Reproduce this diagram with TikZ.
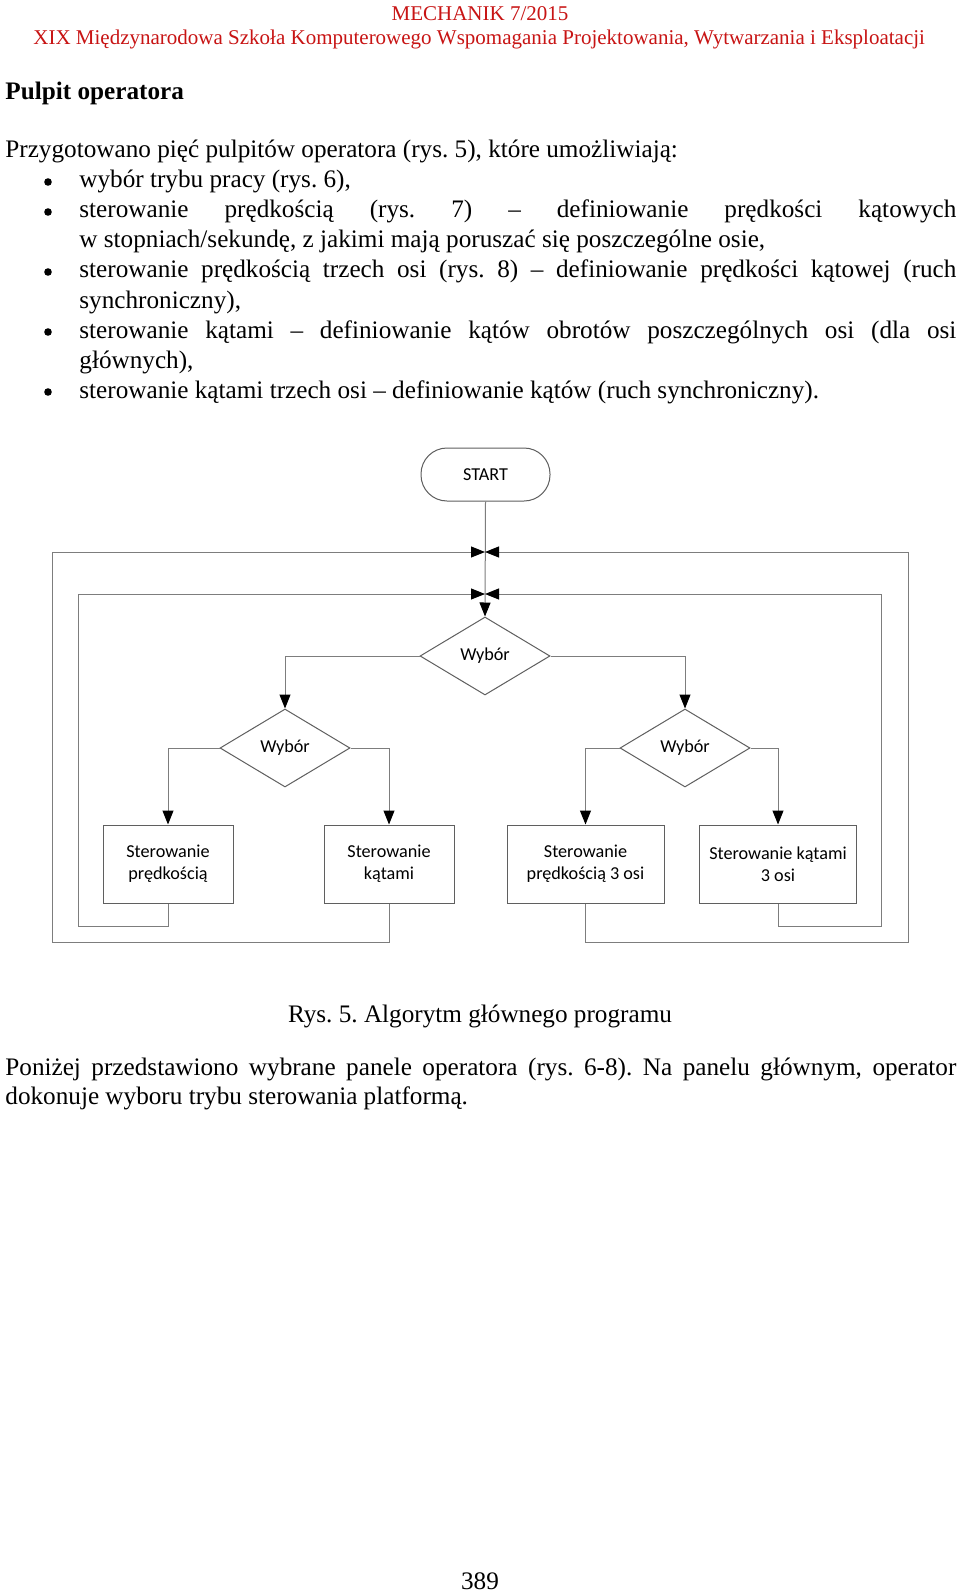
\documentclass[tikz,border=0pt]{standalone}
\usepackage{fontspec}
\setmainfont{Liberation Serif}
\newfontfamily\chartfont{Carlito}
\usepackage{tikz}
\usetikzlibrary{arrows.meta,shapes.geometric}
\frenchspacing

\definecolor{headred}{RGB}{200,20,20}
\definecolor{linegray}{RGB}{125,125,125}
\definecolor{shapegray}{RGB}{95,95,95}
\newcommand{\bodyfont}{\fontsize{12.6}{15}\selectfont}
\newcommand{\headfont}{\fontsize{10.5}{12.6}\selectfont}

\begin{document}
\begin{tikzpicture}[x=0.5pt,y=-0.5pt,
    txt/.style={anchor=base west,inner sep=0pt,font=\bodyfont},
    conn/.style={draw=linegray,line width=0.5pt},
    arr/.style={conn,-{Triangle[length=7pt,width=5.5pt,black]}},
    chartnode/.style={draw=shapegray,line width=0.5pt,align=center,inner sep=0pt,
        font=\chartfont\fontsize{9.1}{11.1}\selectfont},
    decision/.style={chartnode,diamond,minimum width=65pt,minimum height=39pt},
    process/.style={chartnode,rectangle,minimum height=39pt},
    terminal/.style={chartnode,rectangle,rounded corners=13pt,minimum width=64.5pt,minimum height=26.5pt}]
    \useasboundingbox[fill=white] (0,0) rectangle (960,1594);

    % naglowek
    \node[anchor=base,inner sep=0pt,font=\headfont,text=headred] (mech) at (480,21) {MECHANIK 7/2015};
    \node[anchor=base west,inner sep=0pt,font=\headfont,text=headred] (szkola) at (33,45)
        {XIX Międzynarodowa Szkoła Komputerowego Wspomagania Projektowania, Wytwarzania i Eksploatacji};

    \node[txt,font=\bodyfont\bfseries] (tytul) at (5,100) {Pulpit operatora};
    \node[txt] (wstep) at (5,158) {Przygotowano pięć pulpitów operatora (rys. 5), które umożliwiają:};

    % lista
    \foreach \y in {188,218,278,338,398}
        \fill (48,\y-6) circle (3.8);
    \node[txt] (p1) at (79,188) {wybór trybu pracy (rys. 6),};
    \node[txt] (p2a) at (79,218) {\makebox[438.5pt][s]{sterowanie prędkością (rys. 7) – definiowanie prędkości kątowych}};
    \node[txt] (p2b) at (79,248) {w stopniach/sekundę, z jakimi mają poruszać się poszczególne osie,};
    \node[txt] (p3a) at (79,278) {\makebox[438.5pt][s]{sterowanie prędkością trzech osi (rys. 8) – definiowanie prędkości kątowej (ruch}};
    \node[txt] (p3b) at (79,308) {synchroniczny),};
    \node[txt] (p4a) at (79,338) {\makebox[438.5pt][s]{sterowanie kątami – definiowanie kątów obrotów poszczególnych osi (dla osi}};
    \node[txt] (p4b) at (79,368) {głównych),};
    \node[txt] (p5) at (79,398) {sterowanie kątami trzech osi – definiowanie kątów (ruch synchroniczny).};

    % schemat
    \node[terminal] (start) at (485.5,474.5) {START};
    \node[decision] (wybor) at (485,656) {Wybór};
    \node[decision] (wyborL) at (285,748) {Wybór};
    \node[decision] (wyborR) at (685,748) {Wybór};
    \node[process,minimum width=65pt] (predk) at (168,864) {Sterowanie\\prędkością};
    \node[process,minimum width=65pt] (katy) at (389,864) {Sterowanie\\kątami};
    \node[process,minimum width=78.5pt] (predk3) at (585.5,864) {Sterowanie\\prędkością 3 osi};
    \node[process,minimum width=78.5pt] (katy3) at (778,864) {Sterowanie kątami\\3 osi};

    \coordinate (j1) at (485,552);
    \coordinate (j2) at (485,594);
    \coordinate (outL) at (52,942);
    \coordinate (outR) at (908,942);
    \coordinate (inL) at (78,926);
    \coordinate (inR) at (881,926);

    \draw[arr] (start.south) -- (wybor.north);
    \draw[arr] (wybor.west) -| (wyborL.north);
    \draw[arr] (wybor.east) -| (wyborR.north);
    \draw[arr] (wyborL.west) -| (predk.north);
    \draw[arr] (wyborL.east) -| (katy.north);
    \draw[arr] (wyborR.west) -| (predk3.north);
    \draw[arr] (wyborR.east) -| (katy3.north);
    % powroty
    \draw[arr] (predk.south) |- (inL) |- (j2);
    \draw[arr] (katy.south) |- (outL) |- (j1);
    \draw[arr] (predk3.south) |- (outR) |- (j1);
    \draw[arr] (katy3.south) |- (inR) |- (j2);

    \node[anchor=base,inner sep=0pt,font=\bodyfont] (podpis) at (480,1022) {Rys. 5. Algorytm głównego programu};
    \node[txt] (dalej) at (5,1075) {\makebox[475.5pt][s]{Poniżej przedstawiono wybrane panele operatora (rys. 6-8). Na panelu głównym, operator}};
    \node[txt] (dalej2) at (5,1104) {dokonuje wyboru trybu sterowania platformą.};
    \node[anchor=base,inner sep=0pt,font=\bodyfont] (strona) at (480,1589) {389};
\end{tikzpicture}
\end{document}
